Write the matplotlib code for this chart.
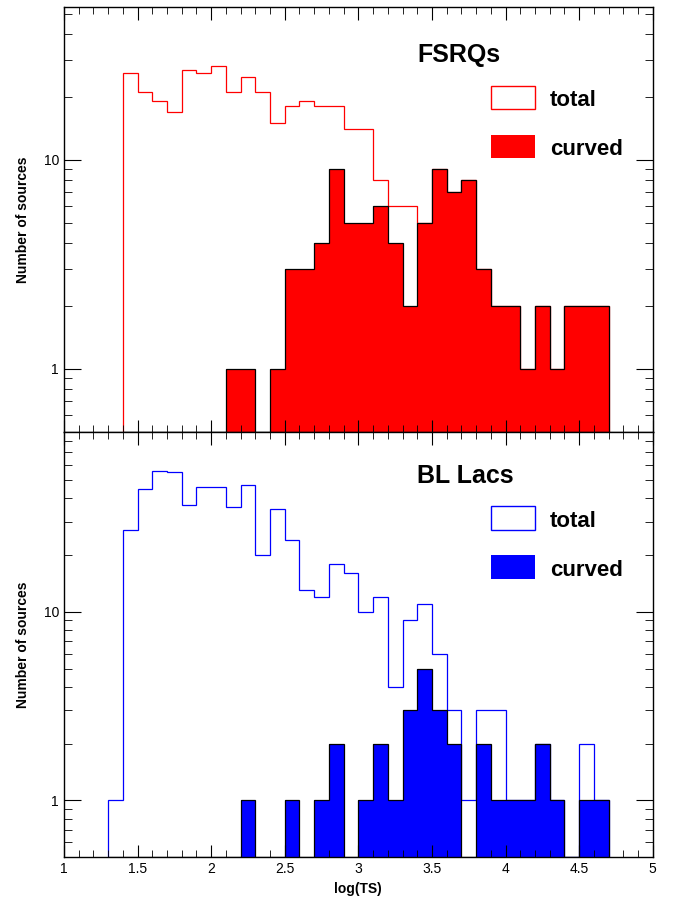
import numpy as np
import matplotlib.pyplot as plt
from matplotlib.patches import Rectangle
from matplotlib.ticker import MultipleLocator, LogLocator, FixedLocator, NullFormatter

plt.rcParams['font.family'] = ['Liberation Sans', 'DejaVu Sans']

# FSRQs, bins of 0.1 in log(TS)
fsrq_edges = np.round(np.arange(1.4, 4.71, 0.1), 2)
fsrq_total = [26, 21, 19, 17, 27, 26, 28, 21, 25, 21, 15, 18, 19, 18, 18, 14, 14, 8, 6, 6,
              5, 9, 7, 8, 3, 2, 2, 1, 2, 1, 2, 2, 2]
fsrq_curved = [0, 0, 0, 0, 0, 0, 0, 1, 1, 0, 1, 3, 3, 4, 9, 5, 5, 6, 4, 2,
               5, 9, 7, 8, 3, 2, 2, 1, 2, 1, 2, 2, 2]

# BL Lacs
bll_edges = np.round(np.arange(1.3, 4.71, 0.1), 2)
bll_total = [1, 27, 45, 56, 55, 37, 46, 46, 36, 47, 20, 35, 24, 13, 12, 18, 16, 10, 12, 4,
             9, 11, 6, 3, 1, 3, 3, 1, 1, 2, 1, 0, 2, 1]
bll_curved = [0, 0, 0, 0, 0, 0, 0, 0, 0, 1, 0, 0, 1, 0, 1, 2, 0, 1, 2, 1,
              3, 5, 3, 2, 0, 2, 1, 1, 1, 2, 1, 0, 1, 1]

fig = plt.figure(figsize=(6.8, 9.09), dpi=100)
ax1 = fig.add_axes([0.094, 0.525, 0.866, 0.467])
ax2 = fig.add_axes([0.094, 0.057, 0.866, 0.468])


def draw_panel(ax, edges, total, curved, color, name, ylim, legy):
    lo = ylim[0]
    t = np.where(np.array(total) > 0, total, lo)
    c = np.where(np.array(curved) > 0, curved, lo)
    ax.set_yscale('log')
    ax.stairs(t, edges, baseline=lo, color=color, lw=0.9)
    ax.stairs(c, edges, baseline=lo, fill=True, facecolor=color, edgecolor='none')
    ax.stairs(c, edges, baseline=lo, color='black', lw=0.9)
    ax.set_xlim(1, 5)
    ax.set_ylim(*ylim)
    ax.xaxis.set_major_locator(MultipleLocator(0.5))
    ax.xaxis.set_minor_locator(MultipleLocator(0.1))
    ax.yaxis.set_major_locator(FixedLocator([1, 10]))
    ax.yaxis.set_minor_locator(LogLocator(base=10, subs=np.arange(2, 10)))
    ax.yaxis.set_minor_formatter(NullFormatter())
    ax.set_yticklabels(['1', '10'])
    ax.tick_params(which='both', direction='in', top=True, right=True, labelsize=10)
    ax.tick_params(which='major', length=12)
    ax.tick_params(which='minor', length=6)
    ax.tick_params(axis='x', which='major', length=9)
    ax.tick_params(axis='x', which='minor', length=5)
    ax.set_ylabel('Number of sources', fontsize=10, fontweight='bold', labelpad=10)
    ax.text(0.6, legy + 0.09, name, transform=ax.transAxes, fontsize=18, fontweight='bold')
    ax.add_patch(Rectangle((0.725, legy - 0.02), 0.075, 0.055, transform=ax.transAxes,
                           facecolor='white', edgecolor=color, lw=1))
    ax.add_patch(Rectangle((0.725, legy - 0.135), 0.075, 0.055, transform=ax.transAxes,
                           facecolor=color, edgecolor='none'))
    ax.text(0.825, legy, 'total', transform=ax.transAxes, fontsize=16, fontweight='bold',
            va='center')
    ax.text(0.825, legy - 0.115, 'curved', transform=ax.transAxes, fontsize=16,
            fontweight='bold', va='center')
    for s in ax.spines.values():
        s.set_linewidth(1)


draw_panel(ax1, fsrq_edges, fsrq_total, fsrq_curved, 'red', 'FSRQs', (0.5, 53.6), 0.78)
draw_panel(ax2, bll_edges, bll_total, bll_curved, 'blue', 'BL Lacs', (0.5, 90), 0.79)
ax1.tick_params(axis='x', labelbottom=False)
ax2.set_xlabel('log(TS)', fontsize=10, fontweight='bold')
ax2.set_xticks([1, 1.5, 2, 2.5, 3, 3.5, 4, 4.5, 5])
ax2.set_xticklabels(['1', '1.5', '2', '2.5', '3', '3.5', '4', '4.5', '5'])

fig.savefig('out.png', dpi=100)
